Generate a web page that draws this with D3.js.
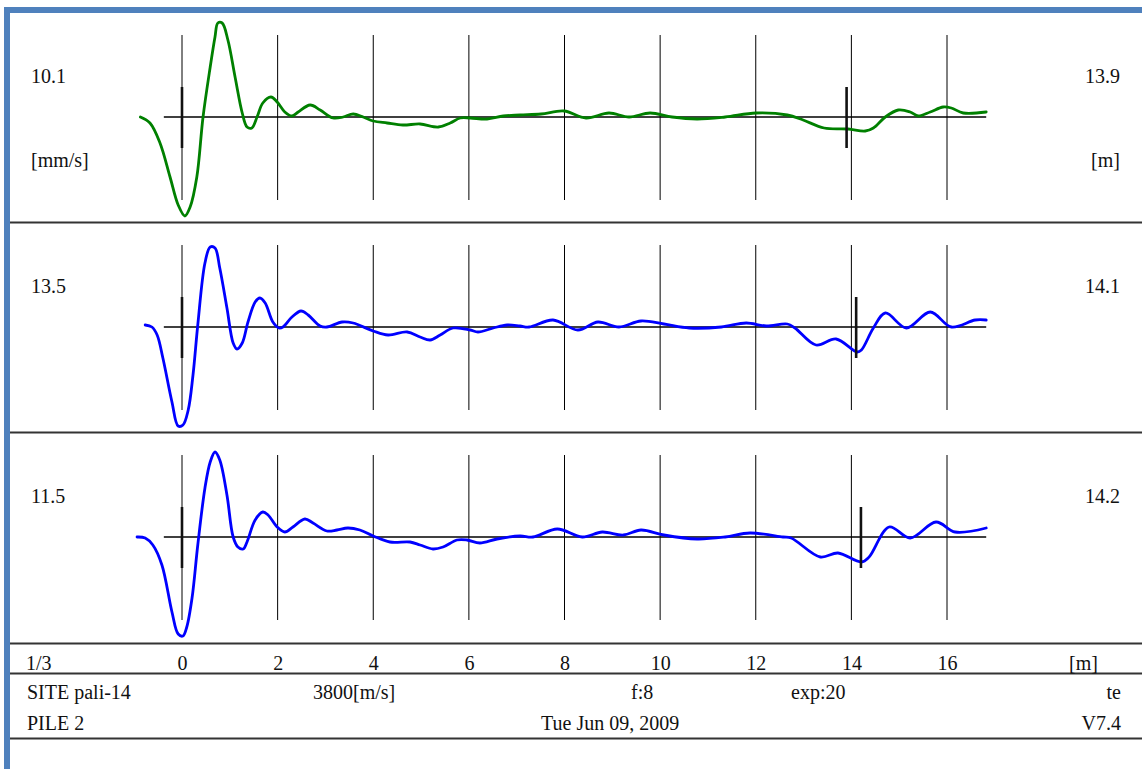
<!DOCTYPE html>
<html><head><meta charset="utf-8">
<script src="https://cdn.jsdelivr.net/npm/d3@7"></script>
<style>
body{margin:0;background:#fff}
svg{display:block}
text{font-family:"Liberation Serif","Times New Roman",serif;font-size:20px;fill:#111}
</style>
</head><body>
<svg id="chart" width="1142" height="769"></svg>
<script>
// ---- data (depth in m, normalized velocity) ----
const trace1Depth = [-0.87,-0.67,-0.46,-0.25,-0.08,0.06,0.17,0.31,0.44,0.59,0.69,0.75,0.84,0.96,1.11,1.26,1.36,1.46,1.57,1.69,1.86,1.99,2.15,2.30,2.43,2.68,2.89,3.16,3.37,3.58,3.79,4.00,4.29,4.62,4.98,5.36,5.61,5.82,6.03,6.38,6.72,7.07,7.51,7.99,8.45,8.93,9.35,9.79,10.25,10.77,11.36,12.01,12.66,12.99,13.43,13.93,14.29,14.46,14.71,14.98,15.23,15.40,15.65,15.92,16.09,16.34,16.82];
const trace1Vel   = [0.00,-0.06,-0.26,-0.60,-0.88,-0.99,-0.90,-0.60,0.00,0.50,0.80,0.94,0.94,0.77,0.40,0.04,-0.10,-0.11,0.00,0.14,0.20,0.15,0.05,0.01,0.05,0.12,0.07,-0.01,0.00,0.03,0.00,-0.04,-0.06,-0.08,-0.07,-0.10,-0.06,-0.01,-0.01,-0.02,0.01,0.02,0.03,0.06,-0.01,0.04,0.00,0.04,0.00,-0.02,0.00,0.04,0.02,-0.03,-0.11,-0.12,-0.14,-0.11,0.00,0.07,0.05,0.01,0.05,0.10,0.09,0.04,0.05];

const trace2Depth = [-0.77,-0.63,-0.52,-0.40,-0.21,-0.08,0.02,0.13,0.23,0.33,0.48,0.59,0.69,0.79,0.94,1.07,1.15,1.26,1.38,1.53,1.63,1.74,1.90,2.03,2.11,2.30,2.49,2.64,2.89,3.03,3.35,3.58,4.00,4.31,4.71,4.98,5.19,5.40,5.67,6.03,6.19,6.51,6.80,7.07,7.26,7.76,8.28,8.70,9.14,9.60,10.08,10.61,11.28,11.80,12.22,12.66,12.82,13.26,13.68,14.12,14.21,14.46,14.71,15.15,15.65,16.09,16.59,16.82];
const trace2Vel   = [0.02,0.00,-0.08,-0.31,-0.75,-0.99,-0.98,-0.83,-0.48,0.02,0.64,0.80,0.79,0.59,0.19,-0.16,-0.22,-0.16,0.05,0.25,0.29,0.24,0.05,-0.01,0.00,0.10,0.16,0.12,0.01,0.00,0.05,0.04,-0.04,-0.08,-0.05,-0.10,-0.13,-0.08,-0.01,-0.03,-0.05,-0.01,0.02,0.01,0.00,0.07,-0.03,0.05,0.00,0.06,0.03,-0.01,0.00,0.04,0.01,0.03,-0.01,-0.18,-0.12,-0.25,-0.23,-0.01,0.14,-0.01,0.15,0.00,0.07,0.07];

const trace3Depth = [-0.94,-0.77,-0.61,-0.42,-0.21,-0.08,0.02,0.10,0.21,0.33,0.48,0.59,0.69,0.79,0.94,1.07,1.17,1.28,1.36,1.53,1.69,1.80,1.99,2.15,2.32,2.57,2.74,3.03,3.24,3.47,3.72,4.00,4.35,4.77,4.98,5.25,5.46,5.75,5.96,6.23,6.59,7.07,7.34,7.85,8.37,8.79,9.23,9.60,10.08,10.77,11.36,11.88,12.57,12.74,13.35,13.72,14.21,14.37,14.79,15.23,15.77,16.17,16.82];
const trace3Vel   = [0.00,-0.01,-0.08,-0.28,-0.75,-0.97,-0.99,-0.90,-0.61,-0.08,0.49,0.75,0.85,0.77,0.42,0.00,-0.10,-0.12,-0.05,0.17,0.25,0.22,0.10,0.05,0.10,0.18,0.14,0.06,0.07,0.09,0.07,0.01,-0.05,-0.05,-0.08,-0.12,-0.10,-0.03,-0.03,-0.06,-0.02,0.01,0.00,0.08,0.00,0.05,0.02,0.07,0.02,-0.02,0.00,0.04,0.00,-0.01,-0.20,-0.16,-0.25,-0.20,0.10,-0.01,0.15,0.05,0.09];

const traceColors  = ["#008000", "#0000ff", "#0000ff"];
const scaleLabels  = ["10.1", "13.5", "11.5"];
const toeDepths    = [13.9, 14.1, 14.2];
const toeLabels    = ["13.9", "14.1", "14.2"];
const tickValues   = [0, 2, 4, 6, 8, 10, 12, 14, 16];
const baselineSpan = [-0.38, 16.82];

// ---- drawing ----
const svg = d3.select("#chart");
svg.append("rect").attr("width",1142).attr("height",769).attr("fill","#fff");

const xScale = d3.scaleLinear().domain([0, 16]).range([182, 947]);

const traces = [
  d3.zip(trace1Depth, trace1Vel),
  d3.zip(trace2Depth, trace2Vel),
  d3.zip(trace3Depth, trace3Vel)
];

// frame
svg.append("rect").attr("x",4).attr("y",7).attr("width",1138).attr("height",6).attr("fill","#4f81bd");
svg.append("rect").attr("x",4).attr("y",7).attr("width",6).attr("height",762).attr("fill","#4f81bd");

// separators
[222.5, 432.5, 643.5, 673.5, 738.5].forEach(yv => {
  svg.append("line").attr("x1",10).attr("x2",1142).attr("y1",yv).attr("y2",yv)
    .attr("stroke","#333").attr("stroke-width",2);
});

traces.forEach((data, i) => {
  const base = 117 + 210 * i;
  const y = d3.scaleLinear().domain([-1, 1]).range([base + 100, base - 100]);
  const g = svg.append("g");

  g.selectAll("line.grid").data(tickValues).join("line")
    .attr("class","grid")
    .attr("x1", d => xScale(d)).attr("x2", d => xScale(d))
    .attr("y1", y(0.82)).attr("y2", y(-0.83))
    .attr("stroke","#000").attr("stroke-width",1);

  g.append("line")
    .attr("x1", xScale(baselineSpan[0])).attr("x2", xScale(baselineSpan[1]))
    .attr("y1", y(0)).attr("y2", y(0))
    .attr("stroke","#000").attr("stroke-width",1.3);

  const line = d3.line().x(d => xScale(d[0])).y(d => y(d[1])).curve(d3.curveCatmullRom.alpha(0.5));
  g.append("path").datum(data).attr("d", line)
    .attr("fill","none").attr("stroke", traceColors[i]).attr("stroke-width",2.8)
    .attr("stroke-linejoin","round").attr("stroke-linecap","round");

  g.selectAll("line.marker").data([0, toeDepths[i]]).join("line")
    .attr("class","marker")
    .attr("x1", d => xScale(d)).attr("x2", d => xScale(d))
    .attr("y1", y(0.30)).attr("y2", y(-0.31))
    .attr("stroke","#111").attr("stroke-width",2.6);

  const top = 13 + 210 * i;
  g.append("text").attr("x",31).attr("y",top + 70).text(scaleLabels[i]);
  g.append("text").attr("x",1120).attr("y",top + 70).attr("text-anchor","end").text(toeLabels[i]);
  if (i === 0) {
    g.append("text").attr("x",31).attr("y",top + 154).text("[mm/s]");
    g.append("text").attr("x",1120).attr("y",top + 154).attr("text-anchor","end").text("[m]");
  }
});

// bottom depth axis
const axis = svg.append("g").attr("transform","translate(0,643)")
  .call(d3.axisBottom(xScale).tickValues(tickValues).tickSize(0).tickFormat(d3.format("d")));
axis.select(".domain").remove();
axis.selectAll("text").attr("y",27).attr("dy",0)
  .style("font-family","'Liberation Serif','Times New Roman',serif").style("font-size","20px").style("fill","#111");

svg.append("text").attr("x",26).attr("y",670).text("1/3");
svg.append("text").attr("x",1069).attr("y",670).text("[m]");

svg.append("text").attr("x",27).attr("y",699).text("SITE pali-14");
svg.append("text").attr("x",313).attr("y",699).text("3800[m/s]");
svg.append("text").attr("x",631).attr("y",699).text("f:8");
svg.append("text").attr("x",791).attr("y",699).text("exp:20");
svg.append("text").attr("x",1121).attr("y",699).attr("text-anchor","end").text("te");

svg.append("text").attr("x",27).attr("y",730).text("PILE 2");
svg.append("text").attr("x",541).attr("y",730).text("Tue Jun 09, 2009");
svg.append("text").attr("x",1121).attr("y",730).attr("text-anchor","end").text("V7.4");
</script>
</body></html>
